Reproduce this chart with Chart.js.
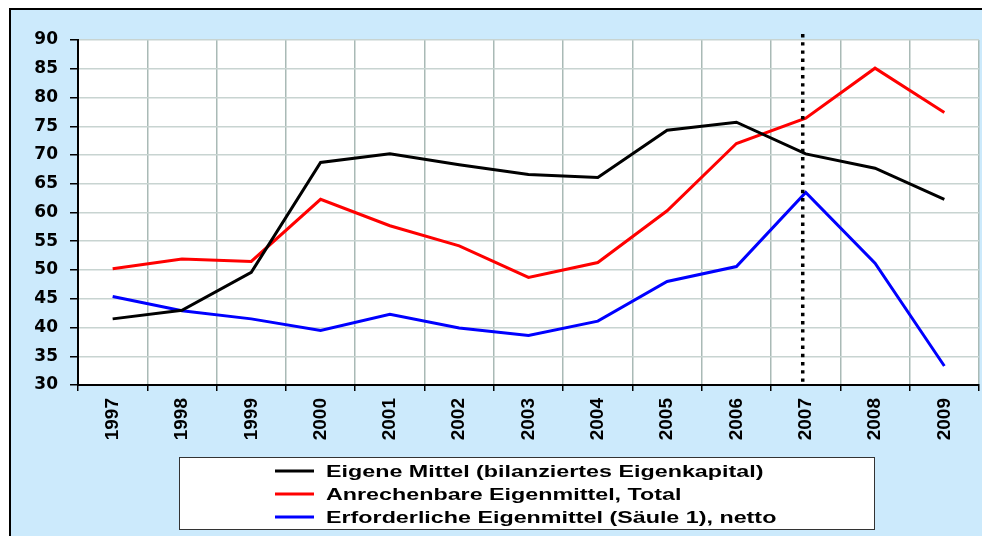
<!DOCTYPE html>
<html>
<head>
<meta charset="utf-8">
<script src="https://cdn.jsdelivr.net/npm/chart.js@4/dist/chart.umd.min.js"></script>
<style>
  html, body { margin: 0; padding: 0; background: #fff; }
  #wrap { width: 982px; height: 536px; }
</style>
</head>
<body>
<div id="wrap"><canvas id="chart" width="982" height="536"></canvas></div>
<script>
const years = ['1997', '1998', '1999', '2000', '2001', '2002', '2003', '2004', '2005', '2006', '2007', '2008', '2009'];
const eigeneMittel = [41.5, 43.0, 49.6, 68.7, 70.2, 68.3, 66.6, 66.1, 74.3, 75.7, 70.2, 67.7, 62.3];
const anrechenbar = [50.2, 51.9, 51.5, 62.3, 57.7, 54.2, 48.7, 51.3, 60.3, 72.0, 76.4, 85.1, 77.4];
const erforderlich = [45.4, 42.9, 41.5, 39.5, 42.3, 39.9, 38.6, 41.1, 48.0, 50.6, 63.5, 51.2, 33.3];
const markerYear = '2007';

const seriesNames = [
  'Eigene Mittel (bilanziertes Eigenkapital)',
  'Anrechenbare Eigenmittel, Total',
  'Erforderliche Eigenmittel (Säule 1), netto'
];

const BG = '#cceafc';

// panel background + outer frame
const panelPlugin = {
  id: 'panel',
  beforeDraw(chart) {
    const c = chart.ctx;
    c.save();
    c.fillStyle = '#fff';
    c.fillRect(0, 0, chart.width, chart.height);
    c.fillStyle = BG;
    c.fillRect(9, 8, chart.width - 9, chart.height - 8);
    c.strokeStyle = '#000';
    c.lineWidth = 2;
    c.beginPath();
    c.moveTo(10, chart.height);
    c.lineTo(10, 9);
    c.lineTo(chart.width, 9);
    c.stroke();
    const a = chart.chartArea;
    c.fillStyle = '#fff';
    c.fillRect(a.left, a.top, a.right - a.left, a.bottom - a.top);
    c.restore();
  },
  afterDatasetsDraw(chart) {
    // dotted marker line at 2007
    const c = chart.ctx;
    const x = chart.scales.x.getPixelForValue(years.indexOf(markerYear)) - 3;
    c.save();
    c.strokeStyle = '#000';
    c.lineWidth = 3.5;
    c.setLineDash([3.4, 4.8]);
    c.beginPath();
    c.moveTo(x, 34);
    c.lineTo(x, chart.chartArea.bottom);
    c.stroke();
    c.restore();
  },
  afterDraw(chart) {
    // legend box
    const c = chart.ctx;
    c.save();
    c.fillStyle = '#fff';
    c.fillRect(179, 457, 696, 73);
    c.strokeStyle = '#333';
    c.lineWidth = 1;
    c.strokeRect(179.5, 457.5, 695, 72);
    c.textBaseline = 'middle';
    chart.data.datasets.forEach((ds, i) => {
      const y = 471 + i * 23;
      c.strokeStyle = ds.borderColor;
      c.lineWidth = 3;
      c.beginPath();
      c.moveTo(275, y);
      c.lineTo(314, y);
      c.stroke();
      c.save();
      c.translate(326, y + 1);
      c.scale(1.37, 1);   // the original text is stretched wide
      c.font = 'bold 17px "Liberation Sans", Arial, sans-serif';
      c.fillStyle = '#000';
      c.fillText(ds.label, 0, 0);
      c.restore();
    });
    c.restore();
  }
};

new Chart(document.getElementById('chart'), {
  type: 'line',
  data: {
    labels: years,
    datasets: [
      { label: seriesNames[0], data: eigeneMittel, borderColor: '#000000' },
      { label: seriesNames[1], data: anrechenbar, borderColor: '#ff0000' },
      { label: seriesNames[2], data: erforderlich, borderColor: '#0000ff' }
    ]
  },
  options: {
    responsive: false,
    animation: false,
    layout: { padding: { left: 0, top: 40, right: 3, bottom: 0 } },
    elements: {
      line: { borderWidth: 3, tension: 0 },
      point: { radius: 0 }
    },
    plugins: { legend: { display: false }, tooltip: { enabled: false } },
    scales: {
      x: {
        offset: true,
        afterFit: s => { s.height = 151; },
        grid: { offset: true, color: '#a9bab6', lineWidth: 1.5, tickLength: 6, tickColor: '#000' },
        border: { color: '#000', width: 2 },
        ticks: {
          minRotation: 90, maxRotation: 90, padding: 7, color: '#000',
          font: { family: '"Liberation Sans", Arial, sans-serif', weight: 'bold', size: 19 }
        }
      },
      y: {
        min: 30, max: 90,
        afterFit: s => { s.width = 78; },
        grid: { color: '#c8d4d1', lineWidth: 1.5, tickLength: 8, tickColor: '#000' },
        border: { color: '#000', width: 2 },
        ticks: {
          stepSize: 5, padding: 12, color: '#000',
          font: { family: '"DejaVu Sans", sans-serif', weight: 'bold', size: 17 }
        }
      }
    }
  },
  plugins: [panelPlugin]
});
</script>
</body>
</html>
